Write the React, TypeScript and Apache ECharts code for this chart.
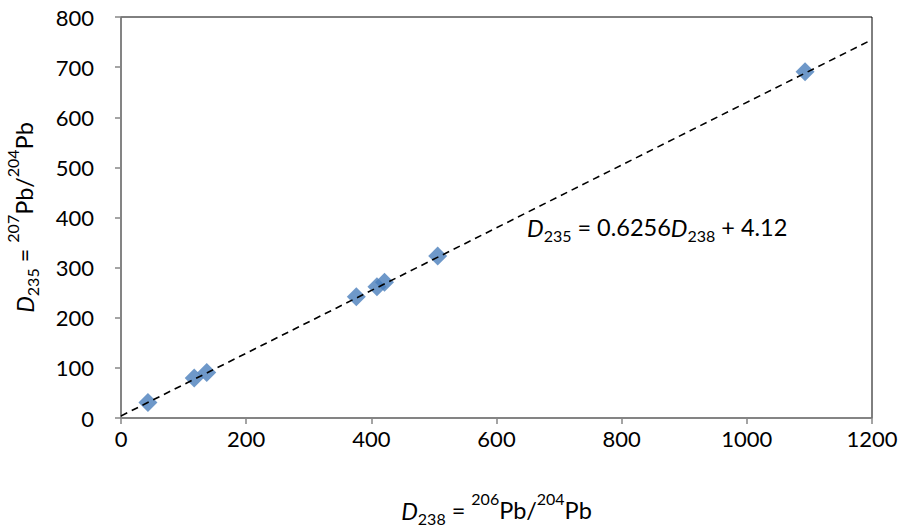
import React, { useEffect, useRef } from "react";
import * as echarts from "echarts";

const d238 = [43, 117, 137, 376, 409, 421, 506, 1093];
const d235 = [31, 80, 91, 242, 262, 271, 323, 691];
const trendX = [0, 1200];
const trendY = [4.12, 754.84];
const xTicks = [0, 200, 400, 600, 800, 1000, 1200];
const yTicks = [0, 100, 200, 300, 400, 500, 600, 700, 800];

const FONT = "Lato";

export default function App() {
  const ref = useRef<HTMLDivElement>(null);
  useEffect(() => {
    const chart = echarts.init(ref.current!, null, { renderer: "svg" });
    const rich = {
      i: { fontFamily: FONT, fontSize: 23.5, fontStyle: "italic", color: "#000", verticalAlign: "bottom", lineHeight: 30 },
      n: { fontFamily: FONT, fontSize: 23.5, color: "#000", verticalAlign: "bottom", lineHeight: 30 },
      sub: { fontFamily: FONT, fontSize: 16, color: "#000", verticalAlign: "bottom", lineHeight: 22, padding: [0, 0, -4, 0] },
      sup: { fontFamily: FONT, fontSize: 16, color: "#000", verticalAlign: "top", lineHeight: 22, padding: [-2, 0, 0, 0] },
    };
    chart.setOption({
      animation: false,
      backgroundColor: "#fff",
      grid: {
        left: 121,
        right: 27,
        top: 17,
        bottom: 111,
        show: true,
        borderColor: "#000",
        borderWidth: 1,
        outerBoundsMode: "none",
        containLabel: false,
      },
      xAxis: {
        type: "value",
        min: 0,
        max: 1200,
        interval: 200,
        axisLine: { show: true, lineStyle: { color: "#868686", width: 1.5 } },
        axisTick: { show: true, length: 6, lineStyle: { color: "#868686", width: 1.5 } },
        splitLine: { show: false },
        axisLabel: {
          fontFamily: FONT,
          fontSize: 22,
          color: "#000",
          margin: 9,
          formatter: (v: number) => (xTicks.includes(v) ? String(v) : ""),
        },
        name: "{i|D}{sub|238}{n| = }{sup|206}{n|Pb/}{sup|204}{n|Pb}",
        nameLocation: "middle",
        nameGap: 74,
        nameTextStyle: { rich },
      },
      yAxis: {
        type: "value",
        min: 0,
        max: 800,
        interval: 100,
        axisLine: { show: true, lineStyle: { color: "#868686", width: 1.5 } },
        axisTick: { show: true, length: 6, lineStyle: { color: "#868686", width: 1.5 } },
        splitLine: { show: false },
        axisLabel: {
          fontFamily: FONT,
          fontSize: 22,
          color: "#000",
          margin: 27,
          formatter: (v: number) => (yTicks.includes(v) ? String(v) : ""),
        },
        name: "{i|D}{sub|235}{n| = }{sup|207}{n|Pb/}{sup|204}{n|Pb}",
        nameLocation: "middle",
        nameGap: 85,
        nameTextStyle: { rich },
      },
      graphic: [
        {
          type: "text",
          left: 527,
          top: 215,
          style: {
            text: "{i|D}{sub|235}{n| = 0.6256}{i|D}{sub|238}{n| + 4.12}",
            rich,
          },
        },
      ],
      series: [
        {
          type: "line",
          data: trendX.map((x, k) => [x, trendY[k]]),
          symbol: "none",
          lineStyle: { color: "#000", width: 1.6, type: [7, 5] },
          z: 3,
          silent: true,
        },
        {
          type: "scatter",
          data: d238.map((x, k) => [x, d235[k]]),
          symbol: "diamond",
          symbolSize: 19,
          itemStyle: { color: "#4A7EBB" },
          z: 2,
        },
      ],
    });
    return () => chart.dispose();
  }, []);
  return <div ref={ref} style={{ position: "fixed", left: 0, top: 0, width: 899, height: 529 }} />;
}
